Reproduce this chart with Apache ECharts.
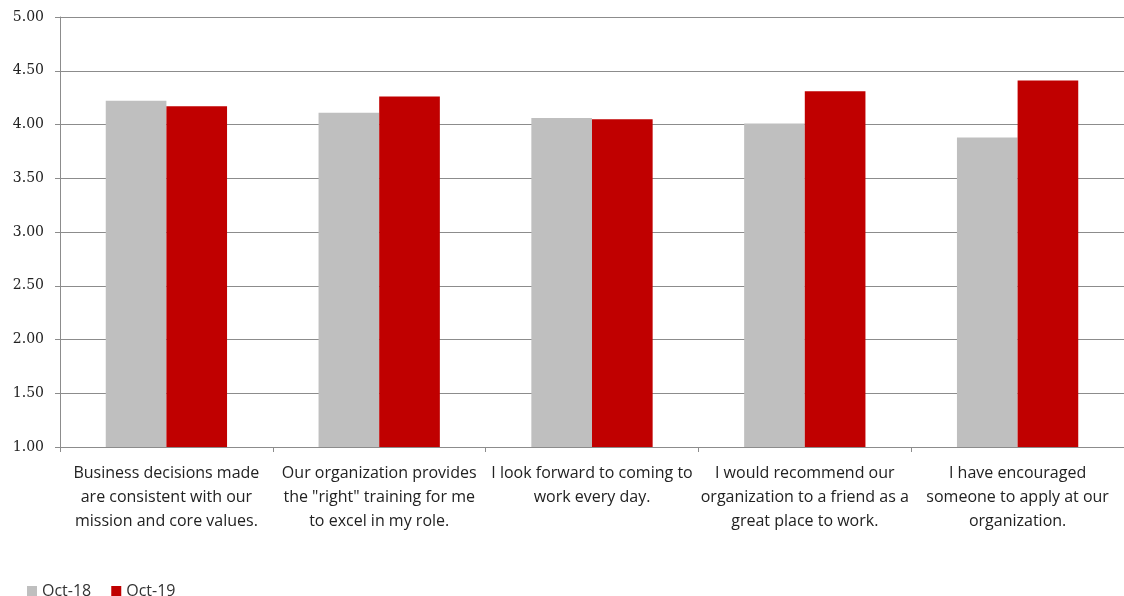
<!DOCTYPE html>
<html>
<head>
<meta charset="utf-8">
<script src="https://cdn.jsdelivr.net/npm/echarts@6/dist/echarts.min.js"></script>
<style>
html,body{margin:0;padding:0;background:#fff;}
#chart{width:1124px;height:596px;}
</style>
</head>
<body>
<div id="chart"></div>
<script>
const categories = [
  'Business decisions made\nare consistent with our\nmission and core values.',
  'Our organization provides\nthe "right" training for me\nto excel in my role.',
  'I look forward to coming to\nwork every day.',
  'I would recommend our\norganization to a friend as a\ngreat place to work.',
  'I have encouraged\nsomeone to apply at our\norganization.'
];
const seriesNames = ['Oct-18', 'Oct-19'];
const oct18 = [4.22, 4.11, 4.06, 4.01, 3.88];
const oct19 = [4.17, 4.26, 4.05, 4.31, 4.41];
const yMin = 1, yMax = 5, yInterval = 0.5;

const chart = echarts.init(document.getElementById('chart'), null, {renderer: 'canvas'});
chart.setOption({
  animation: false,
  backgroundColor: '#ffffff',
  grid: {left: 60, right: 0, top: 17, bottom: 149, containLabel: false},
  legend: {
    data: seriesNames,
    left: 22, top: 578,
    icon: 'rect', itemWidth: 10, itemHeight: 10, itemGap: 20,
    textStyle: {fontFamily: 'Open Sans', fontSize: 16, color: '#333'}
  },
  xAxis: {
    type: 'category',
    data: categories,
    axisLine: {lineStyle: {color: '#8c8c8c', width: 1}},
    axisTick: {show: true, length: 5, lineStyle: {color: '#8c8c8c'}},
    axisLabel: {
      interval: 0, margin: 14,
      fontFamily: 'Open Sans', fontSize: 16, color: '#222', lineHeight: 24
    }
  },
  yAxis: {
    type: 'value',
    min: yMin, max: yMax, interval: yInterval,
    axisLine: {show: true, lineStyle: {color: '#8c8c8c', width: 1}},
    axisTick: {show: true, length: 5, lineStyle: {color: '#8c8c8c'}},
    splitLine: {show: true, lineStyle: {color: '#8c8c8c', width: 1}},
    axisLabel: {
      margin: 16,
      formatter: v => v.toFixed(2),
      fontFamily: 'DejaVu Serif', fontSize: 14, color: '#222'
    }
  },
  series: [
    {name: seriesNames[0], type: 'bar', data: oct18, itemStyle: {color: '#bfbfbf'}, barGap: '0%', barCategoryGap: '43%'},
    {name: seriesNames[1], type: 'bar', data: oct19, itemStyle: {color: '#c00000'}, barGap: '0%', barCategoryGap: '43%'}
  ]
});
</script>
</body>
</html>
